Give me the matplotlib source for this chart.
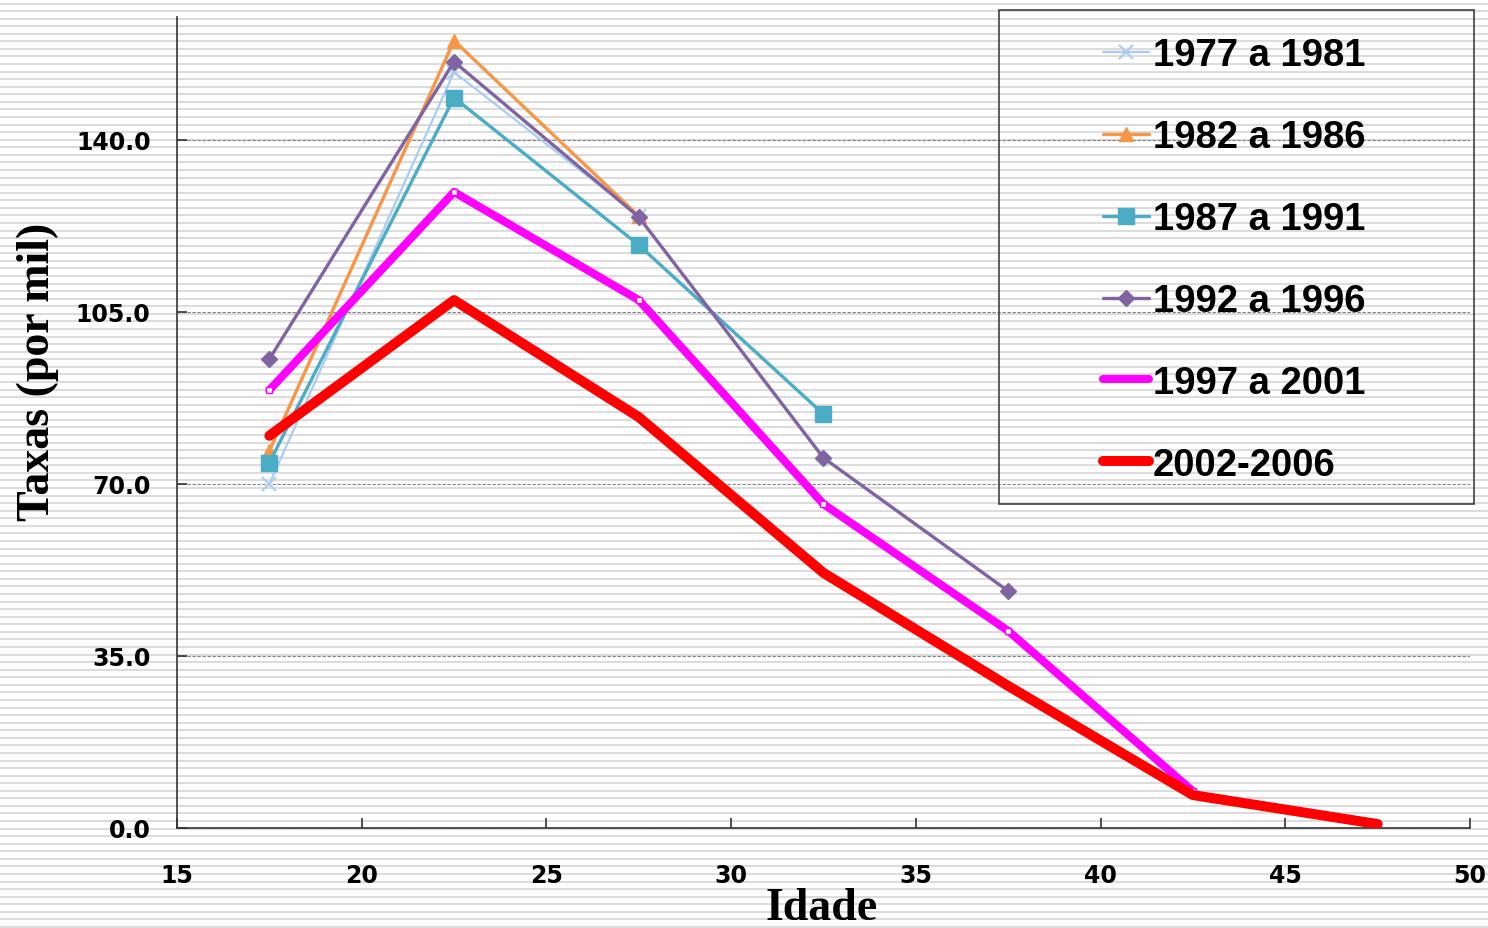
import numpy as np
import matplotlib
matplotlib.use("Agg")
import matplotlib.pyplot as plt
from matplotlib.patches import Rectangle
from matplotlib.lines import Line2D

# age group midpoints
idade = [17.5, 22.5, 27.5, 32.5, 37.5, 42.5, 47.5]

labels = ["1977 a 1981", "1982 a 1986", "1987 a 1991",
          "1992 a 1996", "1997 a 2001", "2002-2006"]

t_1977 = [70.0, 153.8, 124.5]
t_1982 = [76.7, 160.2, 124.5]
t_1987 = [74.3, 148.6, 118.6, 84.2]
t_1992 = [95.4, 155.9, 124.3, 75.3, 48.2]
t_1997 = [89.1, 129.4, 107.4, 65.9, 40.1, 7.5]
t_2002 = [79.8, 107.4, 83.6, 51.9, 28.9, 6.7, 0.8]

series = [t_1977, t_1982, t_1987, t_1992, t_1997, t_2002]
colors = ["#A9CDF2", "#F79646", "#4BACC6", "#8064A2", "#FF00FF", "#FF0000"]
markers = ["x", "^", "s", "D", "s", None]
msizes = [10, 10, 11, 8, 4, 0]
lwidths = [1.6, 2.4, 2.4, 2.4, 5.8, 7.2]

yticks = [0, 35, 70, 105, 140]
xticks = [15, 20, 25, 30, 35, 40, 45, 50]

fig = plt.figure(figsize=(14.88, 9.29), dpi=100, facecolor="white")

# striped background
bg = fig.add_axes([0, 0, 1, 1], zorder=-1)
bg.set_xlim(0, 1)
bg.set_ylim(929, 0)
bg.hlines(np.arange(4.5, 929, 7.57), 0, 1, color="#dcdcdc", lw=1.5)
bg.axis("off")

ax = fig.add_axes([177 / 1488, 1 - 829 / 929, (1470 - 177) / 1488, (829 - 18) / 929])
ax.patch.set_facecolor("none")

handles = []
for i, (vals, lab) in enumerate(zip(series, labels)):
    x = idade[:len(vals)]
    kw = {}
    if markers[i] == "x":
        kw = dict(markeredgewidth=1.5)
    elif markers[i] == "s" and i == 4:
        kw = dict(markerfacecolor="white", markeredgewidth=1)
    ax.plot(x, vals, color=colors[i], lw=lwidths[i], marker=markers[i],
            markersize=msizes[i], label=lab, solid_capstyle="round",
            solid_joinstyle="miter" if i < 4 else "round", zorder=2 + i, **kw)
    # legend handle (thick series shown without marker)
    hm = markers[i] if i < 4 else None
    handles.append(Line2D([], [], color=colors[i], lw=lwidths[i], marker=hm,
                          markersize=msizes[i], solid_capstyle="round",
                          markeredgewidth=1.5 if hm == "x" else 1))

ax.set_xlim(15, 50)
ax.set_ylim(0, 165)
ax.set_yticks(yticks)
ax.set_yticklabels([f"{v:.1f}" for v in yticks])
ax.set_xticks(xticks)
ax.grid(axis="y", linestyle=(0, (3, 1.5)), color="#808080", lw=0.8)
ax.set_axisbelow(True)
for s in ["top", "right"]:
    ax.spines[s].set_visible(False)
for s in ["left", "bottom"]:
    ax.spines[s].set_color("#333333")
    ax.spines[s].set_linewidth(1.2)

ax.tick_params(axis="both", direction="in", length=7, color="#333333", width=1.2)
ax.tick_params(axis="y", pad=19)
ax.tick_params(axis="x", pad=25)
for lbl in ax.get_xticklabels() + ax.get_yticklabels():
    lbl.set_fontfamily("DejaVu Sans")
    lbl.set_fontweight("bold")
    lbl.set_fontsize(17)

fig.text(38 / 1488, 1 - 372 / 929, "Taxas (por mil)", rotation=90,
         family="Liberation Serif", weight="bold", fontsize=33,
         ha="center", va="center")
fig.text(822 / 1488, 1 - 909 / 929, "Idade", family="Liberation Serif",
         weight="bold", fontsize=33, ha="center", va="center")

# legend box
fig.patches.append(Rectangle((999 / 1488, 1 - 505 / 929), 475 / 1488, 494 / 929,
                             transform=fig.transFigure, fill=False,
                             edgecolor="#404040", lw=1.2, zorder=5))
leg = fig.legend(handles, labels, loc="upper left",
                 bbox_to_anchor=(1069 / 1488, 1 - 4 / 929),
                 frameon=False, handlelength=1.2, handletextpad=0.1,
                 labelspacing=1.2,
                 prop=dict(family="Liberation Sans", weight="bold", size=27.5))

fig.savefig("out.png", dpi=100, facecolor="white")
